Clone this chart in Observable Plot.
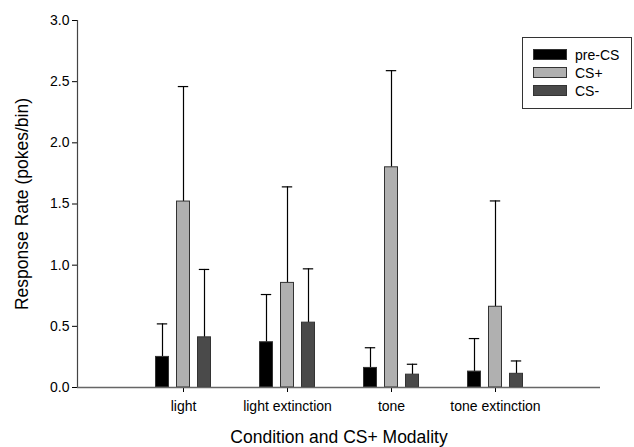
<!DOCTYPE html>
<html>
<head>
<meta charset="utf-8">
<script src="https://cdn.jsdelivr.net/npm/d3@7"></script>
<script src="https://cdn.jsdelivr.net/npm/@observablehq/plot@0.6"></script>
<style>
  html, body { margin: 0; padding: 0; background: #fff; }
  #wrap { position: relative; width: 634px; height: 447px; font-family: "Liberation Sans", Arial, sans-serif; }
  #legend { position: absolute; left: 522px; top: 37px; width: 110px; height: 72px; border: 1px solid #333; box-sizing: border-box; background: #fff; }
  .row { position: absolute; left: 10px; height: 11px; display: flex; align-items: center; font-size: 14px; color: #000; }
  .sw { width: 34px; height: 11px; box-sizing: border-box; border: 1px solid #333; margin-right: 8px; }
</style>
</head>
<body>
<div id="wrap"></div>
<script>
const categories = ["light", "light extinction", "tone", "tone extinction"];
const seriesNames = ["pre-CS", "CS+", "CS-"];
const preCS = [0.25, 0.37, 0.16, 0.13];
const csPlus = [1.52, 0.855, 1.80, 0.66];
const csMinus = [0.41, 0.53, 0.105, 0.112];
const preCSErr = [0.27, 0.39, 0.165, 0.27];
const csPlusErr = [0.94, 0.785, 0.79, 0.865];
const csMinusErr = [0.555, 0.44, 0.085, 0.105];
const yTicks = [0, 0.5, 1.0, 1.5, 2.0, 2.5, 3.0];
const colors = ["#000000", "#b0b0b0", "#4a4a4a"];
const offsets = [-21, 0, 21];

const means = [preCS, csPlus, csMinus];
const errs = [preCSErr, csPlusErr, csMinusErr];
const rows = [];
seriesNames.forEach((s, j) => categories.forEach((c, i) => {
  rows.push({category: c, series: s, value: means[j][i], top: means[j][i] + errs[j][i]});
}));

const barMarks = [];
seriesNames.forEach((s, j) => {
  const d = rows.filter(r => r.series === s);
  barMarks.push(Plot.ruleX(d, {x: "category", y1: "value", y2: "top", dx: offsets[j], stroke: "#000", strokeWidth: 1.2}));
  barMarks.push(Plot.tickY(d, {x: "category", y: "top", dx: offsets[j], insetLeft: 46.8, insetRight: 46.8, stroke: "#000", strokeWidth: 1.2}));
  barMarks.push(Plot.barY(d, {x: "category", y: "value", dx: offsets[j], insetLeft: 45.5, insetRight: 45.5, fill: colors[j], stroke: "#333", strokeWidth: 1}));
});

const chart = Plot.plot({
  width: 634,
  height: 447,
  marginLeft: 77,
  marginRight: 34,
  marginTop: 20,
  marginBottom: 60,
  style: {fontFamily: "'Liberation Sans', Arial, sans-serif", fontSize: "14px", color: "#000", background: "#fff"},
  x: {domain: categories, paddingInner: 0, paddingOuter: 0.5},
  y: {domain: [0, 3]},
  marks: [
    ...barMarks,
    Plot.axisY({ticks: yTicks, tickFormat: d3.format(".1f"), tickSize: 5, tickPadding: 3, fontSize: 14, label: null}),
    Plot.frame({anchor: "left", stroke: "#444", strokeWidth: 1.2}),
    Plot.axisX({tickSize: 5, tickPadding: 9, fontSize: 14, label: null}),
    Plot.ruleY([0], {stroke: "#666", strokeWidth: 1.5}),
    Plot.text(["Response Rate (pokes/bin)"], {frameAnchor: "left", textAnchor: "middle", dx: -55, rotate: -90, fontSize: 17.5, text: d => d}),
    Plot.text(["Condition and CS+ Modality"], {frameAnchor: "bottom", dy: 55, fontSize: 17.5, text: d => d})
  ]
});

const wrap = document.getElementById("wrap");
wrap.appendChild(chart);
const legend = document.createElement("div");
legend.id = "legend";
seriesNames.forEach((s, j) => {
  const r = document.createElement("div");
  r.className = "row";
  r.style.top = (11 + j * 18) + "px";
  const sw = document.createElement("span");
  sw.className = "sw";
  sw.style.background = colors[j];
  r.appendChild(sw);
  r.appendChild(document.createTextNode(s));
  legend.appendChild(r);
});
wrap.appendChild(legend);
</script>
</body>
</html>
